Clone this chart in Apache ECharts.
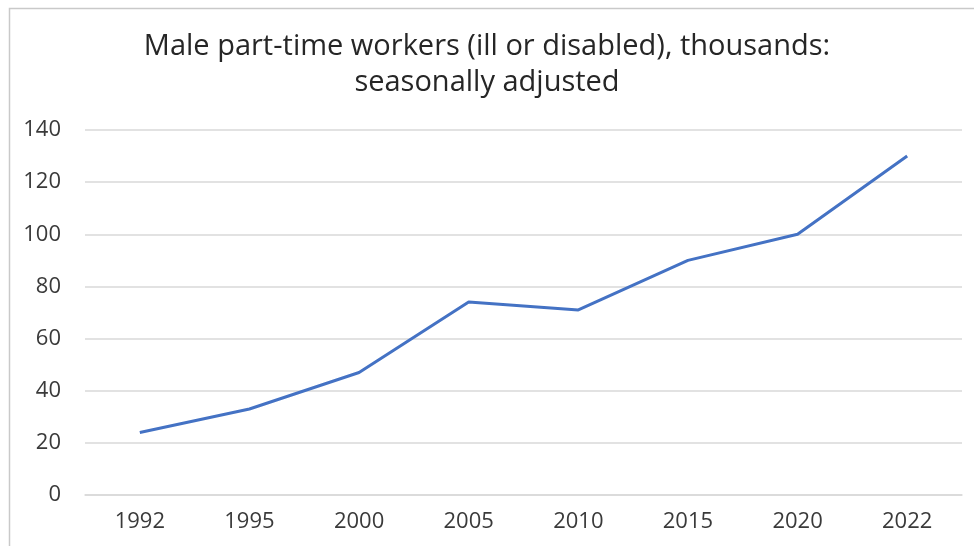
<!DOCTYPE html>
<html>
<head>
<meta charset="utf-8">
<script src="https://cdn.jsdelivr.net/npm/echarts@6/dist/echarts.min.js"></script>
<style>
  html, body { margin: 0; padding: 0; background: #fff; }
  #chart { width: 974px; height: 546px; }
</style>
</head>
<body>
<div id="chart"></div>
<script>
// Survey years and male part-time workers who are ill or disabled (thousands)
const years = ['1992', '1995', '2000', '2005', '2010', '2015', '2020', '2022'];
const workers = [24, 33, 47, 74, 71, 90, 100, 130];

const chart = echarts.init(document.getElementById('chart'));
const font = '"Open Sans", Lato, sans-serif';

chart.setOption({
  animation: false,
  backgroundColor: '#ffffff',
  graphic: [{
    type: 'rect',
    left: 7, top: 6,
    shape: { width: 1000, height: 600 },
    style: { fill: 'none', stroke: '#c9c9c9', lineWidth: 1.5 },
    silent: true
  }],
  title: {
    text: 'Male part-time workers (ill or disabled), thousands:\nseasonally adjusted',
    left: 'center',
    top: 24,
    textStyle: {
      fontFamily: font,
      fontSize: 29,
      fontWeight: 'normal',
      color: '#262626',
      lineHeight: 36
    }
  },
  grid: { left: 85, right: 12, top: 130, bottom: 51, containLabel: false },
  xAxis: {
    type: 'category',
    data: years,
    boundaryGap: true,
    axisLine: { show: true, lineStyle: { color: '#d9d9d9', width: 1.5 } },
    axisTick: { show: false },
    axisLabel: { fontFamily: font, fontSize: 22, color: '#3a3a3a', margin: 16 }
  },
  yAxis: {
    type: 'value',
    min: 0, max: 140, interval: 20,
    axisLine: { show: false },
    axisTick: { show: false },
    axisLabel: { fontFamily: font, fontSize: 22, color: '#3a3a3a', margin: 24 },
    splitLine: { lineStyle: { color: '#d9d9d9', width: 1.5 } }
  },
  series: [{
    type: 'line',
    data: workers,
    symbol: 'none',
    lineStyle: { color: '#4472c4', width: 3 },
    itemStyle: { color: '#4472c4' }
  }]
});
</script>
</body>
</html>
